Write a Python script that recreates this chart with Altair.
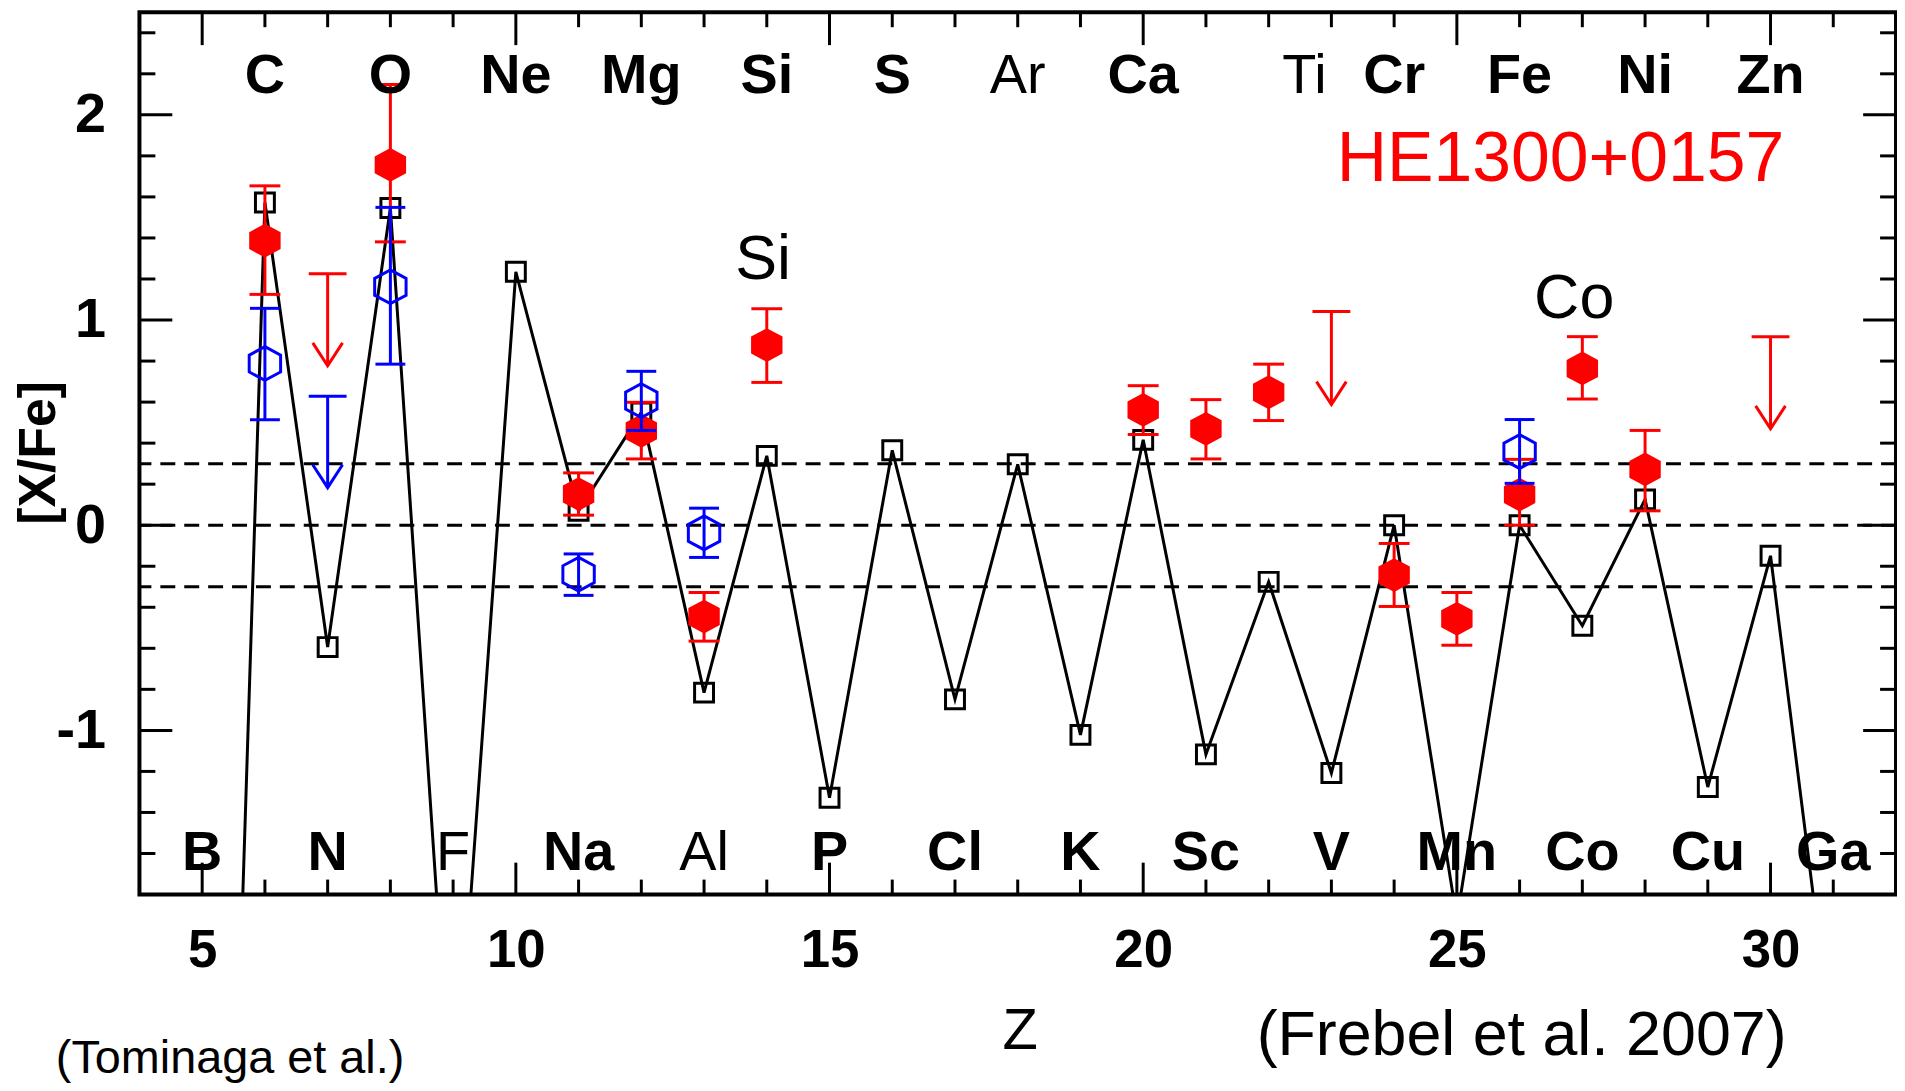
import altair as alt
import pandas as pd

# ---------------- data ----------------
model_z = [5, 6, 7, 8, 9, 10, 11, 12, 13, 14, 15, 16, 17, 18, 19, 20,
           21, 22, 23, 24, 25, 26, 27, 28, 29, 30, 31]
model_v = [-8.0, 1.573, -0.594, 1.546, -3.0, 1.235, 0.07, 0.55, -0.816, 0.338,
           -1.328, 0.365, -0.849, 0.297, -1.022, 0.416, -1.117, -0.276, -1.208,
           0.0, -1.92, 0.0, -0.49, 0.126, -1.276, -0.149, -2.58]

red_z = [6, 8, 11, 12, 13, 14, 20, 21, 22, 24, 25, 26, 27, 28]
red_v = [1.387, 1.756, 0.152, 0.46, -0.445, 0.878, 0.562, 0.47, 0.648,
         -0.243, -0.456, 0.149, 0.764, 0.272]
red_lo = [1.125, 1.381, 0.049, 0.323, -0.565, 0.696, 0.442, 0.323, 0.51,
          -0.396, -0.585, 0.0, 0.615, 0.07]
red_hi = [1.654, 2.148, 0.255, 0.599, -0.328, 1.055, 0.68, 0.612, 0.785,
          -0.089, -0.328, 0.321, 0.919, 0.462]

red_lim_z = [7, 23, 30]
red_lim_top = [1.225, 1.041, 0.919]
red_lim_tip = [0.777, 0.588, 0.47]

blue_z = [6, 8, 11, 12, 13, 26]
blue_v = [0.788, 1.162, -0.239, 0.607, -0.037, 0.359]
blue_lo = [0.514, 0.785, -0.342, 0.462, -0.157, 0.204]
blue_hi = [1.057, 1.549, -0.14, 0.75, 0.083, 0.515]

blue_lim_z = [7]
blue_lim_top = [0.628]
blue_lim_tip = [0.183]

ref_lines = [0.3, 0.0, -0.3]

top_labels = ["C", "O", "Ne", "Mg", "Si", "S", "Ar", "Ca", "Ti", "Cr", "Fe", "Ni", "Zn"]
top_z = [6, 8, 10, 12, 14, 16, 18, 20, 22.57, 24, 26, 28, 30]
top_w = ["bold", "bold", "bold", "bold", "bold", "bold", "normal", "bold",
         "normal", "bold", "bold", "bold", "bold"]

bot_labels = ["B", "N", "F", "Na", "Al", "P", "Cl", "K", "Sc", "V", "Mn", "Co", "Cu", "Ga"]
bot_z = [5, 7, 9, 11, 13, 15, 17, 19, 21, 23, 25, 27, 29, 31]
bot_w = ["bold", "bold", "normal", "bold", "normal", "bold", "bold", "bold",
         "bold", "bold", "bold", "bold", "bold", "bold"]

ann_labels = ["Si", "Co"]
ann_z = [13.94, 26.87]
ann_v = [1.199, 1.01]

x_ticks = [5, 10, 15, 20, 25, 30]
x_minor = [6, 7, 8, 9, 11, 12, 13, 14, 16, 17, 18, 19, 21, 22, 23, 24,
           26, 27, 28, 29, 31]
y_ticks = [-1, 0, 1, 2]
y_minor = [-1.6, -1.4, -1.2, -0.8, -0.6, -0.4, -0.2, 0.2, 0.4, 0.6, 0.8,
           1.2, 1.4, 1.6, 1.8, 2.2, 2.4]

# ---------------- styling ----------------
W, H = 1764, 886
FONT = "Liberation Sans"
RED = "#ff0000"
BLUE = "#0000ff"
HEX = "M0,-1L0.93,-0.5L0.93,0.5L0,1L-0.93,0.5L-0.93,-0.5Z"
ARROW = "M-0.65,-1L0,0L0.65,-1"

xs = alt.Scale(domain=[4, 32], nice=False, zero=False)
ys = alt.Scale(domain=[-1.8, 2.5], nice=False, zero=False)

x_axis = alt.Axis(values=x_ticks, domain=False, ticks=False, tickSize=0, grid=False,
                  labelFont=FONT, labelFontSize=53, labelFontWeight="bold",
                  labelColor="black", labelPadding=72, labelBaseline="alphabetic",
                  labelOverlap=False, labelFlush=False,
                  title="Z", titleFont=FONT, titleFontSize=58, titleFontWeight="normal",
                  titleColor="black", titleX=884, titleY=155, titleBaseline="alphabetic",
                  titleAlign="center")
y_axis = alt.Axis(values=y_ticks, domain=False, ticks=False, tickSize=0, grid=False,
                  labelFont=FONT, labelFontSize=56, labelFontWeight="bold",
                  labelColor="black", labelPadding=34, labelBaseline="middle",
                  labelExpr="datum.value", labelOverlap=False, labelFlush=False,
                  title="[X/Fe]", titleFont=FONT, titleFontSize=52, titleFontWeight="bold",
                  titleColor="black", titleAngle=270, titleX=-85, titleY=442,
                  titleBaseline="alphabetic", titleAlign="center")


def X(field):
    return alt.X(field, type="quantitative", scale=xs, axis=x_axis)


def Y(field):
    return alt.Y(field, type="quantitative", scale=ys, axis=y_axis)


model_df = pd.DataFrame({"Z": model_z, "v": model_v})
red_df = pd.DataFrame({"Z": red_z, "v": red_v, "lo": red_lo, "hi": red_hi})
blue_df = pd.DataFrame({"Z": blue_z, "v": blue_v, "lo": blue_lo, "hi": blue_hi})
red_lim_df = pd.DataFrame({"Z": red_lim_z, "top": red_lim_top, "tip": red_lim_tip})
blue_lim_df = pd.DataFrame({"Z": blue_lim_z, "top": blue_lim_top, "tip": blue_lim_tip})

# reference dashed lines
dashed = alt.Chart(pd.DataFrame({"v": ref_lines})).mark_rule(
    color="black", strokeWidth=3, strokeDash=[15, 9]
).encode(y=Y("v"))

# model line + squares
model_line = alt.Chart(model_df).mark_line(color="black", strokeWidth=3, clip=True).encode(
    x=X("Z"), y=Y("v"))
model_pts = alt.Chart(model_df).mark_point(
    shape="square", filled=False, size=361, strokeWidth=3, color="black", opacity=1, clip=True
).encode(x=X("Z"), y=Y("v"))


def error_layers(df, color, cap):
    bar = alt.Chart(df).mark_rule(color=color, strokeWidth=3).encode(
        x=X("Z"), y=Y("lo"), y2="hi")
    lo = alt.Chart(df).mark_tick(color=color, orient="horizontal", size=cap,
                                 thickness=3, opacity=1).encode(x=X("Z"), y=Y("lo"))
    hi = alt.Chart(df).mark_tick(color=color, orient="horizontal", size=cap,
                                 thickness=3, opacity=1).encode(x=X("Z"), y=Y("hi"))
    return [bar, lo, hi]


def limit_layers(df, color):
    bar = alt.Chart(df).mark_rule(color=color, strokeWidth=3).encode(
        x=X("Z"), y=Y("top"), y2="tip")
    cap = alt.Chart(df).mark_tick(color=color, orient="horizontal", size=38,
                                  thickness=3, opacity=1).encode(x=X("Z"), y=Y("top"))
    head = alt.Chart(df).mark_point(shape=ARROW, filled=False, size=2116,
                                    strokeWidth=3, color=color, opacity=1).encode(
        x=X("Z"), y=Y("tip"))
    return [bar, cap, head]


red_pts = alt.Chart(red_df).mark_point(shape=HEX, filled=True, size=1150, color=RED,
                                       opacity=1, strokeWidth=0).encode(x=X("Z"), y=Y("v"))
blue_pts = alt.Chart(blue_df).mark_point(shape=HEX, filled=False, size=1150, color=BLUE,
                                         opacity=1, strokeWidth=3).encode(x=X("Z"), y=Y("v"))


# inward ticks on all four sides
def tick_rules(vals, side, length):
    df = pd.DataFrame({"t": vals})
    m = alt.Chart(df).mark_rule(color="black", strokeWidth=3)
    if side == "left":
        return m.encode(y=Y("t"), x=alt.value(0), x2=alt.value(length))
    if side == "right":
        return m.encode(y=Y("t"), x=alt.value(W), x2=alt.value(W - length))
    if side == "top":
        return m.encode(x=X("t"), y=alt.value(0), y2=alt.value(length))
    return m.encode(x=X("t"), y=alt.value(H), y2=alt.value(H - length))


ticks = [
    tick_rules(y_minor, "left", 16), tick_rules(y_ticks, "left", 33),
    tick_rules(y_minor, "right", 16), tick_rules(y_ticks, "right", 33),
    tick_rules(x_minor, "top", 15), tick_rules(x_ticks, "top", 33),
    tick_rules(x_minor, "bottom", 15), tick_rules(x_ticks, "bottom", 32),
]

# element labels
top_df = pd.DataFrame({"Z": top_z, "label": top_labels, "w": top_w})
bot_df = pd.DataFrame({"Z": bot_z, "label": bot_labels, "w": bot_w})


def label_layers(df, ypix):
    out = []
    for wt in ["bold", "normal"]:
        out.append(
            alt.Chart(df).transform_filter(alt.datum.w == wt).mark_text(
                font=FONT, fontSize=56, fontWeight=wt, color="black",
                align="center", baseline="alphabetic"
            ).encode(x=X("Z"), y=alt.value(ypix), text="label:N")
        )
    return out


ann = alt.Chart(pd.DataFrame({"Z": ann_z, "v": ann_v, "label": ann_labels})).mark_text(
    font=FONT, fontSize=63, color="black", align="center", baseline="alphabetic"
).encode(x=X("Z"), y=Y("v"), text="label:N")

star = alt.Chart(pd.DataFrame({"t": ["HE1300+0157"]})).mark_text(
    font=FONT, fontSize=70, color=RED, align="center", baseline="alphabetic"
).encode(x=alt.value(1427), y=alt.value(169), text="t:N")

frebel = alt.Chart(pd.DataFrame({"t": ["(Frebel et al. 2007)"]})).mark_text(
    font=FONT, fontSize=63, color="black", align="center", baseline="alphabetic"
).encode(x=alt.value(1388), y=alt.value(1047), text="t:N")

tominaga = alt.Chart(pd.DataFrame({"t": ["(Tominaga et al.)"]})).mark_text(
    font=FONT, fontSize=47, color="black", align="left", baseline="alphabetic"
).encode(x=alt.value(-84), y=alt.value(1065), text="t:N")

layers = ([model_line, dashed, model_pts]
          + error_layers(red_df, RED, 31) + [red_pts] + limit_layers(red_lim_df, RED)
          + error_layers(blue_df, BLUE, 30) + [blue_pts] + limit_layers(blue_lim_df, BLUE)
          + ticks + label_layers(top_df, 81) + label_layers(bot_df, 861)
          + [ann, star, frebel, tominaga])

chart = alt.layer(*layers).properties(
    width=W, height=H,
    padding={"left": 132, "top": 2, "right": 1, "bottom": 189},
    autosize=alt.AutoSizeParams(type="none"),
).configure_view(stroke="black", strokeWidth=4)

chart.save("out.html", embed_options={"renderer": "svg", "actions": False})
